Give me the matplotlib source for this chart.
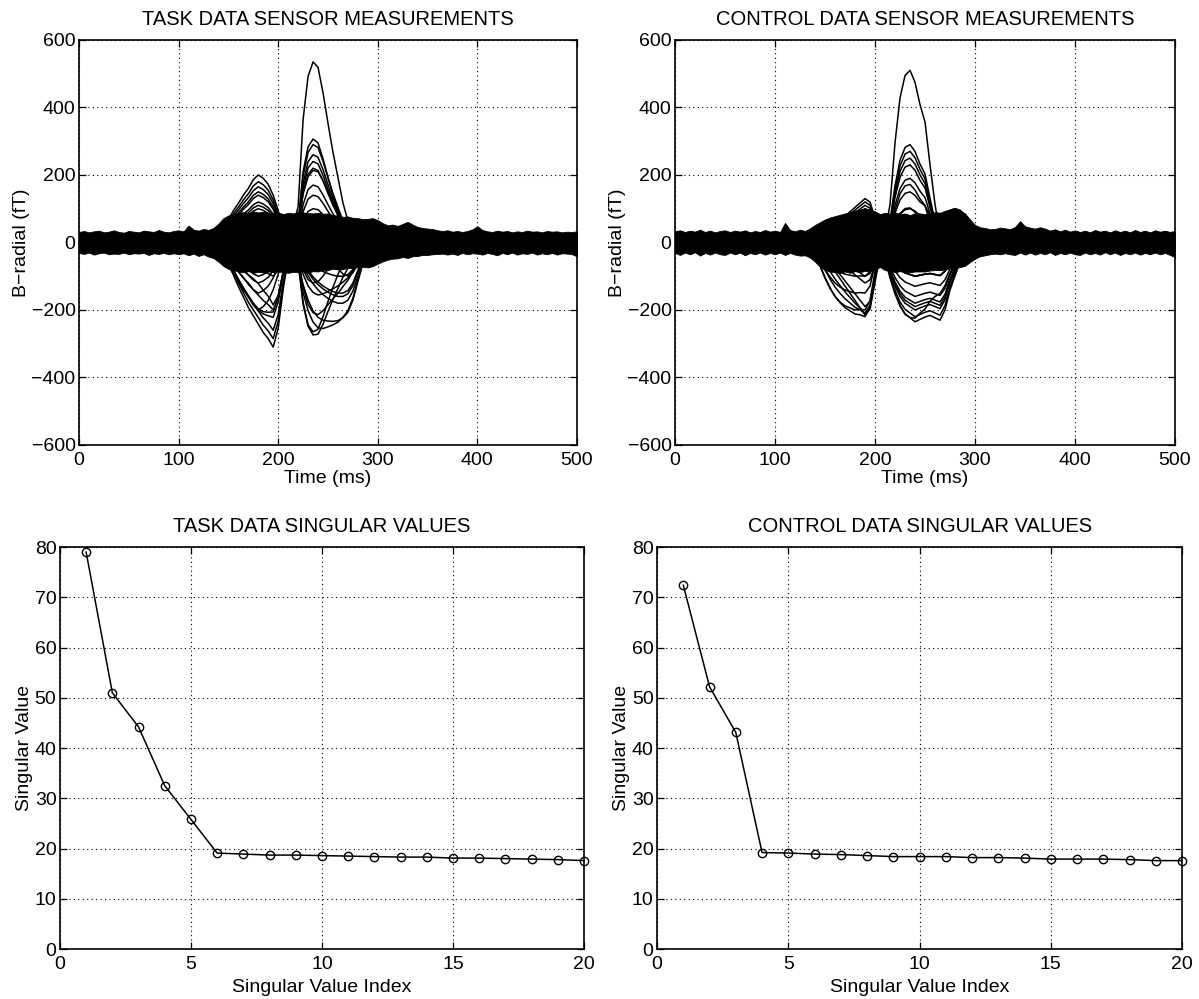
import numpy as np
import matplotlib
matplotlib.use('Agg')
import matplotlib.pyplot as plt

plt.rcParams['font.family'] = ['Liberation Sans', 'DejaVu Sans']

# ---------------- singular values ----------------
sv_index = list(range(1, 21))
task_sv = [79.0, 51.0, 44.2, 32.5, 25.8, 19.1, 18.9, 18.7, 18.7, 18.6,
           18.5, 18.4, 18.3, 18.3, 18.1, 18.1, 18.0, 17.9, 17.8, 17.6]
control_sv = [72.4, 52.2, 43.1, 19.2, 19.1, 18.9, 18.8, 18.6, 18.4, 18.4,
              18.4, 18.2, 18.2, 18.1, 17.9, 17.9, 17.9, 17.8, 17.6, 17.6]

# ---------------- sensor data ----------------
env_time = np.arange(0, 501, 5)        # ms, envelope of the noise band
evoked_time = np.arange(120, 321, 5)   # ms, evoked response window

task_upper = ([31, 34, 30, 33, 35, 30, 32, 36, 31, 29, 34, 32, 30, 35, 33, 31, 37, 32, 30, 34,
               36, 33, 50, 38, 35, 40, 37, 43]
              + [56, 72, 80, 85, 88, 90, 87, 92, 89, 91, 88, 87, 89, 84, 88, 86, 90, 89, 87, 86,
                 88, 85, 86, 81, 80, 76, 77, 73, 72, 69, 70, 72]
              + [66, 57, 51, 53, 49, 55, 61, 53, 46, 43, 41, 40, 36, 34, 36, 32, 34, 31, 34, 39,
                 48, 37, 33, 31, 35, 32, 34, 30, 33, 31, 35, 32, 33, 30, 34, 32, 33, 30, 32, 31, 33])
task_lower = ([-31, -34, -30, -36, -32, -30, -35, -33, -34, -30, -35, -32, -33, -31, -37, -32, -34, -31,
               -35, -32, -35, -32, -38, -33, -40, -35, -42, -46]
              + [-57, -70, -78, -82, -86, -88, -85, -90, -87, -89, -86, -88, -86, -88, -90, -87, -88, -86,
                 -90, -85, -86, -81, -82, -77, -79, -75, -76, -75, -73, -72, -74, -70]
              + [-63, -56, -51, -48, -47, -43, -46, -41, -40, -37, -37, -35, -34, -33, -36, -33, -37, -31,
                 -35, -32, -33, -36, -31, -34, -38, -31, -35, -30, -36, -32, -34, -30, -36, -32, -35, -31,
                 -36, -32, -33, -35, -41])
control_upper = ([33, 36, 31, 35, 32, 38, 31, 35, 30, 34, 36, 31, 35, 32, 36, 30, 34, 31, 37, 32,
                  35, 31, 58, 37, 33, 38, 34, 42]
                 + [52, 60, 68, 74, 78, 82, 86, 90, 94, 98, 100, 98, 92, 84, 88, 85, 89, 84, 86, 81,
                    87, 86, 84, 85, 90, 88, 94, 97, 99, 95, 86, 68]
                 + [52, 45, 43, 39, 40, 44, 42, 39, 46, 63, 48, 44, 41, 45, 41, 35, 39, 33, 38, 32,
                    36, 31, 35, 30, 37, 32, 35, 30, 36, 31, 35, 30, 37, 31, 35, 30, 36, 32, 35, 31, 35])
control_lower = ([-31, -37, -30, -35, -29, -39, -31, -36, -30, -35, -37, -30, -35, -30, -38, -31, -35, -30,
                  -36, -31, -35, -30, -37, -31, -36, -39, -38, -45]
                 + [-57, -72, -82, -86, -88, -90, -86, -90, -85, -88, -84, -85, -80, -73, -82, -84, -88, -85,
                    -88, -88, -86, -86, -86, -83, -82, -82, -80, -77, -76, -73, -69, -58]
                 + [-48, -41, -38, -35, -33, -35, -32, -35, -37, -30, -36, -30, -36, -31, -35, -29, -37, -31,
                    -35, -30, -35, -37, -30, -35, -31, -36, -29, -35, -30, -37, -31, -35, -30, -36, -31, -35,
                    -30, -35, -31, -37, -44])

# normalised source time courses (120..320 ms, 5 ms steps)
task_early = [0, 0, 0, 0.02, 0.08, 0.2, 0.34, 0.47, 0.58, 0.7, 0.8, 0.93, 1.0, 0.95, 0.86, 0.7,
              0.47, 0.24, 0.07, -0.03, -0.05, -0.03] + [0] * 19
task_early2 = [0, 0, 0, 0, 0.03, 0.1, 0.2, 0.31, 0.42, 0.52, 0.62, 0.7, 0.78, 0.86, 0.92, 1.0,
               0.82, 0.45, 0.15, 0.02, 0] + [0] * 20
task_late = [0] * 18 + [0.03, 0.08, 0.2, 0.68, 0.92, 1.0, 0.97, 0.83, 0.66, 0.5, 0.36, 0.22,
                        0.12, 0.05, 0.01] + [0] * 8
task_broad = [0] * 18 + [0.02, 0.1, 0.25, 0.4, 0.55, 0.68, 0.78, 0.86, 0.92, 0.97, 1.0, 1.0,
                         0.95, 0.8, 0.55, 0.3, 0.12, 0.03, 0] + [0] * 4

control_early = [0, 0, 0.02, 0.08, 0.2, 0.35, 0.53, 0.68, 0.8, 0.88, 0.94, 0.97, 1.0, 0.99, 1.0,
                 0.86, 0.42, 0.1, 0] + [0] * 22
control_early2 = [0, 0, 0, 0.02, 0.06, 0.12, 0.2, 0.3, 0.4, 0.5, 0.6, 0.7, 0.8, 0.9, 1.0, 0.92,
                  0.55, 0.18, 0.03, 0] + [0] * 21
control_late = [0] * 17 + [0.02, 0.06, 0.22, 0.58, 0.84, 0.97, 1.0, 0.93, 0.8, 0.7, 0.45, 0.22,
                           0.05, 0] + [0] * 10
control_broad = [0] * 17 + [0.05, 0.2, 0.45, 0.65, 0.8, 0.9, 0.95, 1.0, 0.97, 0.94, 0.92, 0.95,
                            0.98, 0.85, 0.6, 0.42, 0.25, 0.1, 0.02, 0] + [0] * 4
control_bump = [0] * 26 + [0.1, 0.3, 0.5, 0.7, 0.85, 0.95, 1.0, 0.95, 0.8, 0.5, 0.25, 0.1, 0] + [0] * 2

# sensor gains (fT) for each source: task (early, early2, late, broad)
task_gains = [
    (0, 0, 535, 0), (0, 0, 320, -20), (40, 0, 290, 0), (60, 0, 260, 0), (80, 0, 240, 0),
    (100, 0, 220, 0), (0, 0, 200, 20), (120, 0, 170, 0), (150, 0, 140, 0), (200, 0, 0, 0),
    (180, 0, 60, 0), (165, 0, 100, 0), (140, 0, 0, 40), (110, 0, 80, 0), (0, -310, 0, 0),
    (0, -285, 0, -50), (0, -260, 0, -100), (-60, -180, -120, 0), (-80, -150, 0, -150),
    (0, -200, -80, -100), (-100, 0, -265, 0), (0, 0, -240, -50), (0, -100, -100, -200),
    (0, 0, -60, -210), (-150, 0, 0, -180), (-120, 0, -140, -100), (-200, 0, 0, 0),
    (50, -220, 0, -80), (80, 0, 0, -160), (0, -50, 120, -120), (-60, 0, 60, 0), (60, -60, -60, 60),
]
# control (early, early2, late, broad, bump)
control_gains = [
    (0, 0, 510, 0, 0), (0, 0, 290, 0, 0), (0, 40, 270, 0, 0), (0, 60, 250, 0, 0),
    (0, 80, 230, 0, 0), (0, 0, 210, -40, 0), (0, 100, 190, 0, 0), (0, 110, 150, 0, 40),
    (0, 120, 100, 0, 60), (0, 130, 0, 0, 80), (0, 90, 60, 0, 100), (-200, 0, 0, 0, 0),
    (-180, -40, 0, 0, 0), (-120, -90, 0, -60, 0), (-60, -150, 0, 0, 0), (0, -215, 0, 0, 0),
    (0, -190, 0, -100, 0), (0, 0, 0, -235, 0), (0, 0, 0, -220, 0), (0, -100, 0, -200, 0),
    (-100, 0, 0, -180, 0), (0, 0, -80, -150, 0), (0, 0, 0, -130, 0), (-150, 0, 0, -100, 0),
    (0, 80, 0, 0, 100), (0, 100, 0, -100, 0), (-80, 0, 0, -60, 60), (0, 50, 150, -50, 0),
    (0, -120, 0, -160, 0), (0, 60, 0, -190, 0),
]

task_traces = np.array(task_gains, float) @ np.array([task_early, task_early2, task_late, task_broad])
control_traces = np.array(control_gains, float) @ np.array(
    [control_early, control_early2, control_late, control_broad, control_bump])

# ---------------- figure ----------------
fig = plt.figure(figsize=(11.99, 9.99), dpi=100)
ax_tl = fig.add_axes([0.0659, 0.5546, 0.4153, 0.4054])
ax_tr = fig.add_axes([0.5630, 0.5546, 0.4170, 0.4054])
ax_bl = fig.add_axes([0.0500, 0.0500, 0.4370, 0.4024])
ax_br = fig.add_axes([0.5480, 0.0500, 0.4379, 0.4024])

TICK_FS = 14
LABEL_FS = 14
TITLE_FS = 14.5


def style(ax):
    ax.set_axisbelow(True)
    ax.grid(True, linestyle=(0, (1, 3)), color='k', linewidth=0.8)
    ax.tick_params(direction='in', top=True, right=True, labelsize=TICK_FS, length=5, width=0.9)
    ax.tick_params(axis='x', pad=5)
    ax.tick_params(axis='y', pad=2.5)
    for sp in ax.spines.values():
        sp.set_linewidth(1.2)


def sensor_panel(ax, upper, lower, traces, title):
    ax.fill_between(env_time, lower, upper, color='k', linewidth=0.6, edgecolor='k')
    for tr in traces:
        ax.plot(evoked_time, tr, color='k', lw=1.1)
    ax.set_xlim(0, 500)
    ax.set_ylim(-600, 600)
    ax.set_xticks(range(0, 501, 100))
    ax.set_yticks(range(-600, 601, 200))
    ax.set_yticklabels(['\u2212600', '\u2212400', '\u2212200', '0', '200', '400', '600'])
    ax.set_xlabel('Time (ms)', fontsize=LABEL_FS, labelpad=1)
    ax.set_ylabel('B\u2212radial (fT)', fontsize=LABEL_FS, labelpad=1)
    ax.set_title(title, fontsize=TITLE_FS, pad=11)
    style(ax)


def sv_panel(ax, values, title):
    ax.plot(sv_index, values, color='k', lw=1.1, marker='o', ms=6, mfc='none', mew=1.0,
            clip_on=False)
    ax.set_xlim(0, 20)
    ax.set_ylim(0, 80)
    ax.set_xticks(range(0, 21, 5))
    ax.set_yticks(range(0, 81, 10))
    ax.set_xlabel('Singular Value Index', fontsize=LABEL_FS, labelpad=4)
    ax.set_ylabel('Singular Value', fontsize=LABEL_FS, labelpad=1)
    ax.set_title(title, fontsize=TITLE_FS, pad=11)
    style(ax)


sensor_panel(ax_tl, task_upper, task_lower, task_traces, 'TASK DATA SENSOR MEASUREMENTS')
sensor_panel(ax_tr, control_upper, control_lower, control_traces, 'CONTROL DATA SENSOR MEASUREMENTS')
sv_panel(ax_bl, task_sv, 'TASK DATA SINGULAR VALUES')
sv_panel(ax_br, control_sv, 'CONTROL DATA SINGULAR VALUES')

fig.savefig('out.png', dpi=100)
